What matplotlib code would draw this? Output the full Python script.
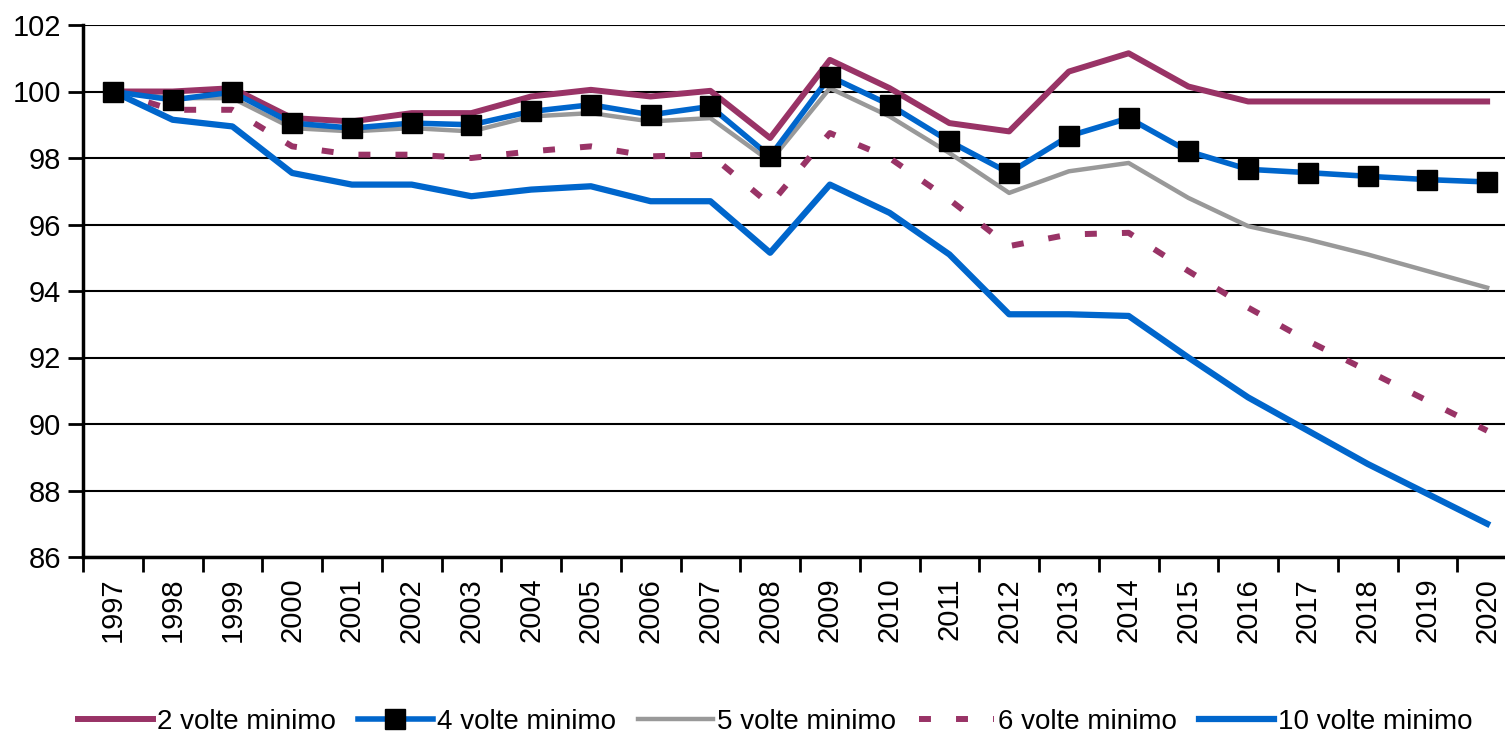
import numpy as np
import matplotlib.pyplot as plt

anni = [str(a) for a in range(1997, 2021)]

volte_2 = [100, 100.0, 100.1, 99.2, 99.1, 99.35, 99.35, 99.85, 100.05, 99.85, 100.02,
           98.6, 100.95, 100.1, 99.05, 98.8, 100.6, 101.15, 100.15, 99.7, 99.7, 99.7, 99.7, 99.7]
volte_4 = [100, 99.75, 99.98, 99.05, 98.9, 99.05, 99.0, 99.4, 99.6, 99.3, 99.55,
           98.05, 100.45, 99.6, 98.5, 97.55, 98.66, 99.2, 98.2, 97.66, 97.56, 97.45, 97.35, 97.28]
volte_5 = [100, 99.8, 99.8, 98.9, 98.8, 98.9, 98.8, 99.25, 99.35, 99.1, 99.2,
           97.9, 100.1, 99.25, 98.15, 96.95, 97.6, 97.85, 96.8, 95.95, 95.55, 95.1, 94.6, 94.1]
volte_6 = [100, 99.45, 99.45, 98.35, 98.1, 98.1, 98.0, 98.2, 98.35, 98.05, 98.1,
           96.6, 98.75, 98.0, 96.75, 95.35, 95.7, 95.75, 94.6, 93.5, 92.5, 91.6, 90.7, 89.8]
volte_10 = [100, 99.15, 98.95, 97.55, 97.2, 97.2, 96.85, 97.05, 97.15, 96.7, 96.7,
            95.15, 97.2, 96.35, 95.1, 93.3, 93.3, 93.25, 92.0, 90.8, 89.8, 88.8, 87.9, 87.0]

plt.rcParams['font.family'] = ['Liberation Sans', 'DejaVu Sans']

viola = "#993366"
blu = "#0066CC"
grigio = "#999999"

fig = plt.figure(figsize=(15.05, 7.39), dpi=100)
ax = fig.add_axes([83 / 1505, 1 - 557 / 739, 1434 / 1505, 532 / 739])

x = np.arange(len(anni))
ax.plot(x, volte_2, color=viola, lw=4.3, label="2 volte minimo", zorder=3)
ax.plot(x, volte_5, color=grigio, lw=3.2, label="5 volte minimo", zorder=2)
ax.plot(x, volte_4, color=blu, lw=4.0, marker="s", markersize=15,
        markerfacecolor="black", markeredgecolor="black", label="4 volte minimo", zorder=4)
ax.plot(x, volte_6, color=viola, lw=4.3, linestyle=(0, (2.0, 4.2)), label="6 volte minimo", zorder=3)
ax.plot(x, volte_10, color=blu, lw=4.5, label="10 volte minimo", zorder=3)

ax.set_xlim(-0.5, len(anni) - 0.5)
ax.set_ylim(86, 102)
ax.set_yticks(range(86, 103, 2))
ax.yaxis.grid(True, color="black", lw=1.5)
ax.set_axisbelow(True)

ax.set_xticks(x)
ax.set_xticklabels(anni, rotation=90, fontsize=21)
ax.set_xticks(np.arange(-0.5, len(anni)), minor=True)
ax.tick_params(axis="x", which="major", length=0, pad=15)
ax.tick_params(axis="x", which="minor", length=11, width=2, direction="out")
ax.tick_params(axis="y", labelsize=21, length=11, width=2, pad=5)

for s in ["top", "right"]:
    ax.spines[s].set_visible(False)
ax.spines["left"].set_linewidth(2.5)
ax.spines["bottom"].set_linewidth(2.5)

handles, labels = ax.get_legend_handles_labels()
order = [0, 2, 1, 3, 4]
fig.legend([handles[i] for i in order], [labels[i] for i in order],
           loc="center", bbox_to_anchor=(0.515, 1 - 722 / 739), ncol=5, frameon=False,
           fontsize=20, handlelength=2.7, handletextpad=0.15, columnspacing=0.8)

fig.savefig("out.png", dpi=100)
